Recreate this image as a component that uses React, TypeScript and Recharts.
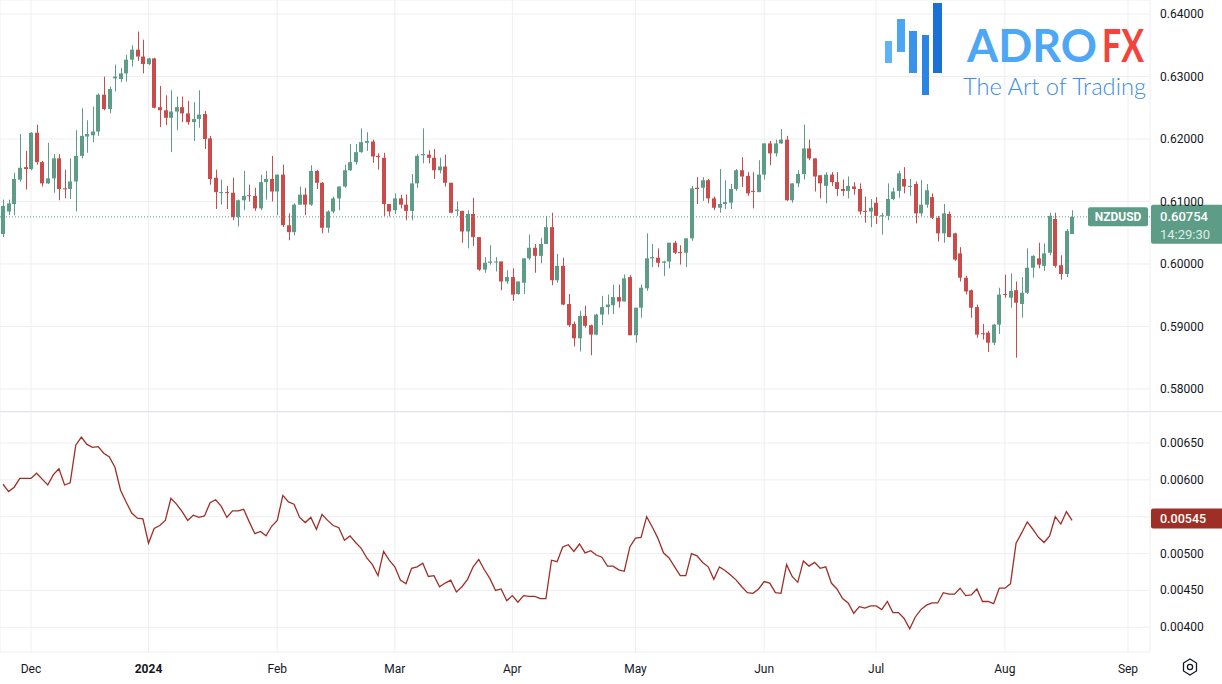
import React from 'react';
import { ComposedChart, Bar, Line, XAxis, YAxis, CartesianGrid, ReferenceLine } from 'recharts';

// NZDUSD daily, 24 Nov 2023 .. 19 Aug 2024 (weekdays)
const opens = [
  0.6048, 0.6084, 0.6096, 0.6135, 0.6155, 0.6152, 0.6210, 0.6163, 0.6129, 0.6137,
  0.6169, 0.6121, 0.6120, 0.6132, 0.6173, 0.6204, 0.6206, 0.6212, 0.6271, 0.6248,
  0.6297, 0.6296, 0.6305, 0.6327, 0.6343, 0.6332, 0.6320, 0.6329, 0.6251, 0.6246,
  0.6234, 0.6244, 0.6251, 0.6241, 0.6227, 0.6232, 0.6240, 0.6201, 0.6138, 0.6114,
  0.6115, 0.6114, 0.6075, 0.6102, 0.6110, 0.6109, 0.6089, 0.6131, 0.6136, 0.6116,
  0.6143, 0.6062, 0.6051, 0.6095, 0.6111, 0.6095, 0.6149, 0.6130, 0.6058, 0.6084,
  0.6105, 0.6124, 0.6150, 0.6163, 0.6179, 0.6194, 0.6196, 0.6173, 0.6170, 0.6096,
  0.6086, 0.6105, 0.6095, 0.6085, 0.6129, 0.6174, 0.6175, 0.6170, 0.6150, 0.6156,
  0.6130, 0.6085, 0.6085, 0.6052, 0.6080, 0.6043, 0.5991, 0.6002, 0.6003, 0.6004,
  0.5972, 0.5979, 0.5952, 0.5970, 0.6009, 0.6026, 0.6013, 0.6032, 0.6059, 0.5974,
  0.5997, 0.5936, 0.5904, 0.5881, 0.5917, 0.5902, 0.5887, 0.5919, 0.5931, 0.5934,
  0.5947, 0.5940, 0.5979, 0.5886, 0.5930, 0.5961, 0.6009, 0.6010, 0.6002, 0.6004,
  0.6034, 0.6019, 0.6018, 0.6041, 0.6122, 0.6122, 0.6134, 0.6105, 0.6090, 0.6096,
  0.6098, 0.6120, 0.6150, 0.6141, 0.6117, 0.6115, 0.6143, 0.6193, 0.6177, 0.6193,
  0.6199, 0.6102, 0.6129, 0.6144, 0.6185, 0.6169, 0.6142, 0.6125, 0.6143, 0.6131,
  0.6120, 0.6117, 0.6124, 0.6120, 0.6085, 0.6084, 0.6098, 0.6076, 0.6077, 0.6104,
  0.6117, 0.6136, 0.6124, 0.6128, 0.6081, 0.6095, 0.6107, 0.6074, 0.6049, 0.6080,
  0.6049, 0.6017, 0.5978, 0.5958, 0.5931, 0.5889, 0.5890, 0.5874, 0.5903, 0.5952,
  0.5946, 0.5958, 0.5936, 0.5954, 0.5994, 0.6009, 0.5997, 0.6018, 0.6072, 0.5998,
  0.5984, 0.6048,
];
const highs = [
  0.6103, 0.6103, 0.6146, 0.6208, 0.6181, 0.6211, 0.6223, 0.6165, 0.6194, 0.6176,
  0.6176, 0.6151, 0.6169, 0.6214, 0.6249, 0.6230, 0.6252, 0.6273, 0.6300, 0.6284,
  0.6319, 0.6314, 0.6335, 0.6350, 0.6372, 0.6359, 0.6330, 0.6330, 0.6285, 0.6270,
  0.6278, 0.6268, 0.6268, 0.6261, 0.6259, 0.6278, 0.6245, 0.6205, 0.6151, 0.6135,
  0.6125, 0.6138, 0.6103, 0.6149, 0.6127, 0.6122, 0.6143, 0.6149, 0.6173, 0.6143,
  0.6159, 0.6081, 0.6097, 0.6124, 0.6122, 0.6158, 0.6151, 0.6131, 0.6086, 0.6108,
  0.6124, 0.6159, 0.6192, 0.6192, 0.6217, 0.6211, 0.6199, 0.6177, 0.6178, 0.6096,
  0.6113, 0.6111, 0.6111, 0.6144, 0.6176, 0.6217, 0.6182, 0.6184, 0.6170, 0.6175,
  0.6130, 0.6100, 0.6085, 0.6086, 0.6106, 0.6043, 0.6011, 0.6030, 0.6011, 0.6004,
  0.5990, 0.5993, 0.5972, 0.6009, 0.6047, 0.6032, 0.6042, 0.6077, 0.6082, 0.6016,
  0.6010, 0.5952, 0.5908, 0.5925, 0.5933, 0.5903, 0.5920, 0.5949, 0.5951, 0.5967,
  0.5967, 0.5983, 0.5982, 0.5930, 0.5967, 0.6049, 0.6032, 0.6025, 0.6005, 0.6034,
  0.6037, 0.6030, 0.6041, 0.6125, 0.6139, 0.6139, 0.6136, 0.6108, 0.6152, 0.6134,
  0.6128, 0.6152, 0.6171, 0.6147, 0.6147, 0.6166, 0.6193, 0.6197, 0.6199, 0.6216,
  0.6205, 0.6129, 0.6150, 0.6223, 0.6199, 0.6169, 0.6142, 0.6147, 0.6147, 0.6147,
  0.6135, 0.6140, 0.6131, 0.6129, 0.6108, 0.6104, 0.6107, 0.6082, 0.6129, 0.6122,
  0.6149, 0.6155, 0.6136, 0.6132, 0.6134, 0.6128, 0.6113, 0.6077, 0.6096, 0.6084,
  0.6050, 0.6027, 0.5981, 0.5959, 0.5935, 0.5904, 0.5893, 0.5904, 0.5962, 0.5983,
  0.5985, 0.5972, 0.5979, 0.6025, 0.6014, 0.6034, 0.6033, 0.6082, 0.6082, 0.6014,
  0.6056, 0.6086,
];
const lows = [
  0.6043, 0.6078, 0.6078, 0.6132, 0.6119, 0.6150, 0.6159, 0.6124, 0.6128, 0.6114,
  0.6102, 0.6105, 0.6104, 0.6084, 0.6169, 0.6178, 0.6195, 0.6205, 0.6246, 0.6241,
  0.6276, 0.6291, 0.6292, 0.6316, 0.6325, 0.6305, 0.6318, 0.6249, 0.6219, 0.6222,
  0.6179, 0.6214, 0.6227, 0.6223, 0.6197, 0.6218, 0.6184, 0.6127, 0.6088, 0.6095,
  0.6088, 0.6070, 0.6060, 0.6086, 0.6100, 0.6085, 0.6086, 0.6103, 0.6100, 0.6078,
  0.6059, 0.6038, 0.6046, 0.6095, 0.6078, 0.6093, 0.6120, 0.6049, 0.6050, 0.6081,
  0.6086, 0.6122, 0.6149, 0.6159, 0.6178, 0.6181, 0.6162, 0.6151, 0.6077, 0.6076,
  0.6080, 0.6089, 0.6070, 0.6070, 0.6122, 0.6161, 0.6161, 0.6136, 0.6145, 0.6124,
  0.6081, 0.6077, 0.6034, 0.6025, 0.6029, 0.5989, 0.5986, 0.5999, 0.5988, 0.5958,
  0.5968, 0.5941, 0.5951, 0.5952, 0.6006, 0.5986, 0.6001, 0.6032, 0.5966, 0.5970,
  0.5934, 0.5899, 0.5868, 0.5860, 0.5898, 0.5854, 0.5886, 0.5902, 0.5919, 0.5920,
  0.5930, 0.5940, 0.5886, 0.5874, 0.5914, 0.5957, 0.5995, 0.5995, 0.5981, 0.5993,
  0.6016, 0.5999, 0.5995, 0.6037, 0.6096, 0.6101, 0.6097, 0.6086, 0.6082, 0.6088,
  0.6088, 0.6117, 0.6123, 0.6109, 0.6089, 0.6115, 0.6135, 0.6158, 0.6172, 0.6192,
  0.6101, 0.6098, 0.6123, 0.6135, 0.6166, 0.6116, 0.6105, 0.6097, 0.6125, 0.6109,
  0.6109, 0.6105, 0.6111, 0.6079, 0.6066, 0.6059, 0.6064, 0.6047, 0.6070, 0.6102,
  0.6106, 0.6113, 0.6109, 0.6065, 0.6077, 0.6090, 0.6072, 0.6036, 0.6034, 0.6043,
  0.6005, 0.5972, 0.5951, 0.5914, 0.5882, 0.5879, 0.5859, 0.5870, 0.5888, 0.5946,
  0.5930, 0.5850, 0.5914, 0.5952, 0.5978, 0.5993, 0.5989, 0.6014, 0.5994, 0.5975,
  0.5979, 0.6048,
];
const closes = [
  0.6093, 0.6097, 0.6136, 0.6154, 0.6152, 0.6210, 0.6163, 0.6129, 0.6137, 0.6169,
  0.6120, 0.6120, 0.6132, 0.6173, 0.6205, 0.6208, 0.6212, 0.6271, 0.6248, 0.6280,
  0.6300, 0.6305, 0.6327, 0.6343, 0.6332, 0.6320, 0.6329, 0.6250, 0.6246, 0.6234,
  0.6244, 0.6251, 0.6241, 0.6227, 0.6232, 0.6239, 0.6200, 0.6136, 0.6115, 0.6115,
  0.6114, 0.6075, 0.6102, 0.6109, 0.6109, 0.6089, 0.6131, 0.6136, 0.6116, 0.6143,
  0.6062, 0.6051, 0.6095, 0.6111, 0.6095, 0.6149, 0.6130, 0.6058, 0.6084, 0.6105,
  0.6124, 0.6150, 0.6163, 0.6179, 0.6195, 0.6197, 0.6172, 0.6171, 0.6096, 0.6084,
  0.6105, 0.6095, 0.6085, 0.6129, 0.6173, 0.6176, 0.6170, 0.6150, 0.6156, 0.6130,
  0.6082, 0.6087, 0.6052, 0.6080, 0.6043, 0.5991, 0.6002, 0.6004, 0.6004, 0.5972,
  0.5979, 0.5951, 0.5972, 0.6009, 0.6026, 0.6013, 0.6032, 0.6059, 0.5974, 0.5997,
  0.5935, 0.5902, 0.5881, 0.5917, 0.5901, 0.5887, 0.5919, 0.5931, 0.5935, 0.5947,
  0.5940, 0.5977, 0.5886, 0.5930, 0.5962, 0.6009, 0.6011, 0.6002, 0.6004, 0.6034,
  0.6018, 0.6018, 0.6041, 0.6121, 0.6120, 0.6134, 0.6105, 0.6090, 0.6096, 0.6099,
  0.6120, 0.6150, 0.6140, 0.6113, 0.6116, 0.6143, 0.6193, 0.6177, 0.6193, 0.6199,
  0.6102, 0.6129, 0.6144, 0.6185, 0.6169, 0.6140, 0.6129, 0.6143, 0.6131, 0.6120,
  0.6117, 0.6125, 0.6120, 0.6084, 0.6084, 0.6090, 0.6077, 0.6078, 0.6104, 0.6116,
  0.6145, 0.6124, 0.6125, 0.6081, 0.6095, 0.6118, 0.6074, 0.6049, 0.6081, 0.6043,
  0.6007, 0.5978, 0.5956, 0.5930, 0.5887, 0.5888, 0.5874, 0.5903, 0.5951, 0.5951,
  0.5957, 0.5938, 0.5954, 0.5994, 0.6013, 0.5999, 0.6017, 0.6077, 0.5997, 0.5984,
  0.6053, 0.60754,
];

// lower pane indicator (ATR-like), one value per candle
const atrValues = [
  0.00594, 0.00584, 0.00590, 0.00602, 0.00602, 0.00602, 0.00609, 0.00601, 0.00593, 0.00607,
  0.00615, 0.00593, 0.00596, 0.00647, 0.00658, 0.00648, 0.00644, 0.00645, 0.00636, 0.00631,
  0.00617, 0.00586, 0.00570, 0.00555, 0.00548, 0.00547, 0.00514, 0.00534, 0.00538, 0.00545,
  0.00575, 0.00567, 0.00557, 0.00545, 0.00552, 0.00549, 0.00551, 0.00569, 0.00573, 0.00564,
  0.00549, 0.00558, 0.00558, 0.00560, 0.00543, 0.00527, 0.00530, 0.00524, 0.00537, 0.00545,
  0.00579, 0.00570, 0.00567, 0.00549, 0.00542, 0.00549, 0.00533, 0.00553, 0.00545, 0.00538,
  0.00535, 0.00518, 0.00524, 0.00515, 0.00507, 0.00494, 0.00485, 0.00470, 0.00503, 0.00491,
  0.00482, 0.00464, 0.00459, 0.00480, 0.00482, 0.00487, 0.00469, 0.00470, 0.00455, 0.00460,
  0.00464, 0.00448, 0.00455, 0.00465, 0.00482, 0.00492, 0.00478, 0.00466, 0.00450, 0.00452,
  0.00436, 0.00443, 0.00434, 0.00443, 0.00442, 0.00442, 0.00439, 0.00439, 0.00491, 0.00489,
  0.00509, 0.00512, 0.00503, 0.00513, 0.00501, 0.00504, 0.00498, 0.00495, 0.00483, 0.00483,
  0.00478, 0.00476, 0.00509, 0.00521, 0.00522, 0.00550, 0.00536, 0.00521, 0.00501, 0.00494,
  0.00482, 0.00470, 0.00470, 0.00500, 0.00497, 0.00488, 0.00482, 0.00465, 0.00482, 0.00477,
  0.00471, 0.00464, 0.00455, 0.00447, 0.00446, 0.00452, 0.00462, 0.00460, 0.00447, 0.00446,
  0.00485, 0.00469, 0.00461, 0.00490, 0.00483, 0.00488, 0.00480, 0.00482, 0.00460, 0.00452,
  0.00439, 0.00433, 0.00419, 0.00428, 0.00426, 0.00429, 0.00429, 0.00424, 0.00435, 0.00420,
  0.00420, 0.00412, 0.00398, 0.00414, 0.00424, 0.00430, 0.00433, 0.00433, 0.00447, 0.00445,
  0.00445, 0.00453, 0.00443, 0.00444, 0.00452, 0.00435, 0.00435, 0.00432, 0.00453, 0.00453,
  0.00459, 0.00514, 0.00528, 0.00543, 0.00533, 0.00522, 0.00515, 0.00524, 0.00550, 0.00540,
  0.00557, 0.00545,
];

// candle index of the first trading day of each month
const monthTicks = [5, 26, 49, 70, 91, 113, 136, 156, 179, 201];
const monthLabels = ['Dec', '2024', 'Feb', 'Mar', 'Apr', 'May', 'Jun', 'Jul', 'Aug', 'Sep'];
const priceTicks = [0.58, 0.59, 0.6, 0.61, 0.62, 0.63, 0.64];
const atrTicks = [0.004, 0.0045, 0.005, 0.0055, 0.006, 0.0065];
// tick labels hidden behind the last-value tag
const hiddenAtrLabels = [0.0055];

const UP = '#5d9c86';
const DOWN = '#cb4b4b';
const ATR_COLOR = '#9e2f26';
const GRID = '#eeeff2';
const TEXT = '#131722';
const FONT = "Roboto, 'Liberation Sans', sans-serif";

const X_DOMAIN: [number, number] = [-0.536, 204.93];

const candles = opens.map((o, i) => ({
  i,
  open: o,
  high: highs[i],
  low: lows[i],
  close: closes[i],
  range: [lows[i], highs[i]],
  atr: atrValues[i],
}));

const lastClose = closes[closes.length - 1];
const lastAtr = atrValues[atrValues.length - 1];

const Candle = (props: any) => {
  const { x, y, width, height, payload } = props;
  if (!payload) return null;
  const { open, close, high, low } = payload;
  const top = Math.min(y, y + height);
  const h = Math.abs(height);
  const k = h / (high - low || 1);
  const yO = top + (high - open) * k;
  const yC = top + (high - close) * k;
  const color = close >= open ? UP : DOWN;
  const bx = Math.round(x);
  const cx = bx + Math.floor(width / 2) + 0.5;
  const bTop = Math.min(yO, yC);
  const bH = Math.max(1, Math.abs(yO - yC));
  return (
    <g>
      <line x1={cx} x2={cx} y1={top} y2={top + h} stroke={color} strokeWidth={1} />
      <rect x={bx} y={bTop} width={Math.round(width)} height={bH} fill={color} />
    </g>
  );
};

const PriceTag = (props: any) => {
  const vb = props.viewBox || {};
  const right = vb.x + vb.width;
  const y = vb.y;
  return (
    <g fontFamily={FONT}>
      <rect x={right - 62} y={y - 9.5} width={60} height={19} rx={2} fill={UP} />
      <text x={right - 32} y={y + 4.5} textAnchor="middle" fontSize={12} fontWeight={700} fill="#fff">
        NZDUSD
      </text>
      <rect x={right + 1} y={y - 12} width={72} height={39} rx={2} fill={UP} />
      <text x={right + 10} y={y + 4.5} fontSize={13} fontWeight={500} fill="#fff">
        {lastClose.toFixed(5)}
      </text>
      <text x={right + 10} y={y + 22} fontSize={13} fill="#dfece7">
        14:29:30
      </text>
    </g>
  );
};

const AtrTag = (props: any) => {
  const vb = props.viewBox || {};
  const right = vb.x + vb.width;
  const y = vb.y - 2;
  return (
    <g fontFamily={FONT}>
      <rect x={right + 1} y={y - 10} width={72} height={20} rx={2} fill={ATR_COLOR} />
      <text x={right + 10} y={y + 4.5} fontSize={12.5} fontWeight={500} fill="#fff">
        {lastAtr.toFixed(5)}
      </text>
    </g>
  );
};

const AtrAxisTick = (props: any) => {
  const { x, y, payload } = props;
  if (hiddenAtrLabels.includes(payload.value)) return <g />;
  return (
    <text x={x} y={y + 4} fontSize={12} fontFamily={FONT} fill={TEXT}>
      {payload.value.toFixed(5)}
    </text>
  );
};

const MonthTick = (props: any) => {
  const { x, y, payload } = props;
  const label = monthLabels[monthTicks.indexOf(payload.value)];
  return (
    <text
      x={x}
      y={y + 19}
      textAnchor="middle"
      fontSize={12}
      fontFamily={FONT}
      fontWeight={label === '2024' ? 700 : 400}
      fill={TEXT}
    >
      {label}
    </text>
  );
};

const Logo = () => (
  <svg width={280} height={100} style={{ position: 'absolute', left: 880, top: 0 }}>
    <rect x={5} y={41} width={7} height={22} fill="#5db3f5" />
    <rect x={17} y={19} width={8} height={33} fill="#4aa6f2" />
    <rect x={29} y={31} width={8} height={42} fill="#3894ea" />
    <rect x={42} y={35} width={7} height={60} fill="#2a84e2" />
    <rect x={53} y={3} width={9} height={70} fill="#1a70d6" />
    <text x={87} y={61.5} fontFamily="Lato, 'Open Sans', sans-serif" fontSize={46} fontWeight={700}
      fill="#4ea7f4" textLength={130} lengthAdjust="spacingAndGlyphs">ADRO</text>
    <text x={222} y={61.5} fontFamily="Lato, 'Open Sans', sans-serif" fontSize={46} fontWeight={700}
      fill="#f4433a" textLength={42} lengthAdjust="spacingAndGlyphs">FX</text>
    <text x={83} y={95} fontFamily="Lato, 'Open Sans', sans-serif" fontSize={22.5} fontWeight={300}
      fill="#3a8de0" textLength={183} lengthAdjust="spacingAndGlyphs">The Art of Trading</text>
  </svg>
);

const Gear = () => (
  <svg width={20} height={20} style={{ position: 'absolute', left: 1180, top: 657 }}>
    <path d="M10 2 L16.5 6 L16.5 14 L10 18 L3.5 14 L3.5 6 Z" fill="none" stroke={TEXT} strokeWidth={1.3} />
    <circle cx={10} cy={10} r={2.6} fill="none" stroke={TEXT} strokeWidth={1.3} />
  </svg>
);

const axisTick = { fill: TEXT, fontSize: 12, fontFamily: FONT };

export default function App() {
  return (
    <div
      style={{
        position: 'absolute',
        left: 0,
        top: 0,
        width: 1222,
        height: 684,
        background: '#fff',
        overflow: 'hidden',
        fontFamily: FONT,
      }}
    >
      <div style={{ position: 'absolute', left: 0, top: 0 }}>
        <ComposedChart width={1222} height={412} data={candles} margin={{ top: 0, right: 0, bottom: 0, left: 0 }}>
          <CartesianGrid stroke={GRID} />
          <XAxis dataKey="i" type="number" domain={X_DOMAIN} ticks={monthTicks} allowDataOverflow hide />
          <YAxis
            orientation="right"
            width={72}
            domain={[0.57631, 0.64225]}
            allowDataOverflow
            ticks={priceTicks}
            tickFormatter={(v: number) => v.toFixed(5)}
            tick={axisTick}
            tickSize={0}
            tickMargin={10}
            axisLine={false}
            tickLine={false}
          />
          <Bar dataKey="range" shape={<Candle />} barSize={4} isAnimationActive={false} />
          <ReferenceLine y={lastClose} stroke={UP} strokeDasharray="1 2" label={<PriceTag />} />
        </ComposedChart>
      </div>
      <div style={{ position: 'absolute', left: 0, top: 411, width: 1222, height: 1, background: '#e0e3eb' }} />
      <div style={{ position: 'absolute', left: 0, top: 412 }}>
        <ComposedChart width={1222} height={272} data={candles} margin={{ top: 0, right: 0, bottom: 0, left: 0 }}>
          <CartesianGrid stroke={GRID} />
          <XAxis
            dataKey="i"
            type="number"
            domain={X_DOMAIN}
            ticks={monthTicks}
            allowDataOverflow
            height={32}
            tick={<MonthTick />}
            tickSize={0}
            axisLine={false}
            tickLine={false}
          />
          <YAxis
            orientation="right"
            width={72}
            domain={[0.003665, 0.00692]}
            allowDataOverflow
            ticks={atrTicks}
            tick={<AtrAxisTick />}
            tickSize={0}
            tickMargin={10}
            axisLine={false}
            tickLine={false}
          />
          <Line
            dataKey="atr"
            type="linear"
            stroke={ATR_COLOR}
            strokeWidth={1.3}
            dot={false}
            isAnimationActive={false}
          />
          <ReferenceLine y={lastAtr} stroke="none" label={<AtrTag />} />
        </ComposedChart>
      </div>
      <Logo />
      <Gear />
    </div>
  );
}
